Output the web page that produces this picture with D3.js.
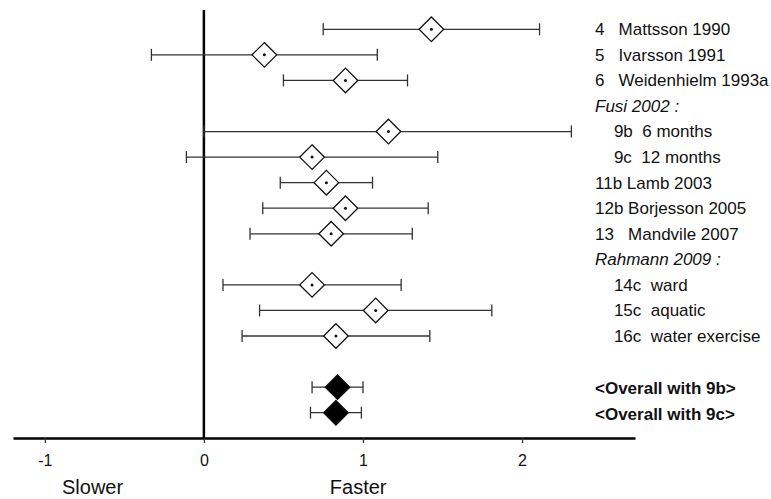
<!DOCTYPE html>
<html>
<head>
<meta charset="utf-8">
<script src="https://cdn.jsdelivr.net/npm/d3@7"></script>
<style>
  body { margin: 0; background: #fff; }
  svg { display: block; font-family: "Liberation Sans", Arial, sans-serif; }
</style>
</head>
<body>
<div id="chart"></div>
<script>
// row labels, top to bottom (spaces keep the column look of the original)
const labels = [
  "4   Mattsson 1990",
  "5   Ivarsson 1991",
  "6   Weidenhielm 1993a",
  "Fusi 2002 :",
  "    9b  6 months",
  "    9c  12 months",
  "11b Lamb 2003",
  "12b Borjesson 2005",
  "13   Mandvile 2007",
  "Rahmann 2009 :",
  "    14c  ward",
  "    15c  aquatic",
  "    16c  water exercise",
  "",
  "<Overall with 9b>",
  "<Overall with 9c>"
];

// study = open diamond, group = italic heading, overall = filled diamond
const rowKind = ["study", "study", "study", "group", "study", "study", "study", "study",
  "study", "group", "study", "study", "study", "blank", "overall", "overall"];

// effect sizes and confidence limits
const estimate = [1.43, 0.38, 0.89, null, 1.16, 0.68, 0.77, 0.89, 0.80, null, 0.68, 1.08, 0.83, null, 0.84, 0.83];
const lower    = [0.75, -0.33, 0.50, null, 0.00, -0.11, 0.48, 0.37, 0.29, null, 0.12, 0.35, 0.24, null, 0.68, 0.67];
const upper    = [2.11, 1.09, 1.28, null, 2.31, 1.47, 1.06, 1.41, 1.31, null, 1.24, 1.81, 1.42, null, 1.00, 0.99];

const tickValues = [-1, 0, 1, 2];
const sideLabels = [{ text: "Slower", at: -0.7 }, { text: "Faster", at: 0.97 }];

const rows = labels.map((label, i) => ({
  i, label, kind: rowKind[i], est: estimate[i], lo: lower[i], hi: upper[i]
}));

const width = 771;
const height = 499;
const axisY = 438;

const x = d3.scaleLinear().domain([-1.2, 2.71]).range([13, 635]);
const y = d3.scalePoint().domain(d3.range(rows.length)).range([29.3, 412.7]);

const svg = d3.create("svg")
  .attr("width", width)
  .attr("height", height)
  .attr("viewBox", [0, 0, width, height]);

// vertical line at zero
svg.append("line")
  .attr("x1", x(0)).attr("x2", x(0))
  .attr("y1", 10).attr("y2", axisY)
  .attr("stroke", "#000")
  .attr("stroke-width", 2.5);

// x axis (plain hyphen for negatives, as in the original)
const axis = svg.append("g")
  .attr("transform", `translate(0,${axisY})`)
  .call(d3.axisBottom(x).tickValues(tickValues).tickSize(5).tickSizeOuter(0).tickPadding(12)
    .tickFormat(d => String(d)));
axis.attr("font-family", null).attr("font-size", 16);
axis.select(".domain").attr("stroke", "#000").attr("stroke-width", 2.5);
axis.selectAll(".tick line").attr("stroke", "#333").attr("stroke-width", 1.3);
axis.selectAll(".tick text").attr("fill", "#111");

// Slower / Faster under the axis
svg.append("g")
  .selectAll("text")
  .data(sideLabels)
  .join("text")
  .attr("x", d => x(d.at))
  .attr("y", 494)
  .attr("text-anchor", "middle")
  .attr("font-size", 20)
  .attr("fill", "#111")
  .text(d => d.text);

const marks = rows.filter(d => d.est != null);
const cap = 6;
const half = 12.3;

// whiskers
const ci = svg.append("g")
  .attr("stroke", "#333")
  .attr("stroke-width", 1.3)
  .selectAll("g")
  .data(marks)
  .join("g");
ci.append("line")
  .attr("x1", d => x(d.lo)).attr("x2", d => x(d.hi))
  .attr("y1", d => y(d.i)).attr("y2", d => y(d.i));
ci.append("line")
  .attr("x1", d => x(d.lo)).attr("x2", d => x(d.lo))
  .attr("y1", d => y(d.i) - cap).attr("y2", d => y(d.i) + cap);
ci.append("line")
  .attr("x1", d => x(d.hi)).attr("x2", d => x(d.hi))
  .attr("y1", d => y(d.i) - cap).attr("y2", d => y(d.i) + cap);

// diamonds
function diamond(d) {
  const cx = x(d.est), cy = y(d.i);
  return `M${cx},${cy - half}L${cx + half},${cy}L${cx},${cy + half}L${cx - half},${cy}Z`;
}
svg.append("g")
  .selectAll("path")
  .data(marks)
  .join("path")
  .attr("d", diamond)
  .attr("fill", d => d.kind === "overall" ? "#000" : "#fff")
  .attr("stroke", "#111")
  .attr("stroke-width", 1.3);

// centre dots of the open diamonds
svg.append("g")
  .selectAll("circle")
  .data(marks.filter(d => d.kind === "study"))
  .join("circle")
  .attr("cx", d => x(d.est))
  .attr("cy", d => y(d.i))
  .attr("r", 1.5)
  .attr("fill", "#111");

// row labels on the right
svg.append("g")
  .selectAll("text")
  .data(rows.filter(d => d.label))
  .join("text")
  .attr("xml:space", "preserve")
  .style("white-space", "pre")
  .attr("x", 595)
  .attr("y", d => y(d.i))
  .attr("dy", d => d.kind === "overall" ? "0.42em" : "0.35em")
  .attr("font-size", 17)
  .attr("font-style", d => d.kind === "group" ? "italic" : null)
  .attr("font-weight", d => d.kind === "overall" ? "bold" : null)
  .attr("fill", "#111")
  .text(d => d.label);

document.getElementById("chart").appendChild(svg.node());
</script>
</body>
</html>
